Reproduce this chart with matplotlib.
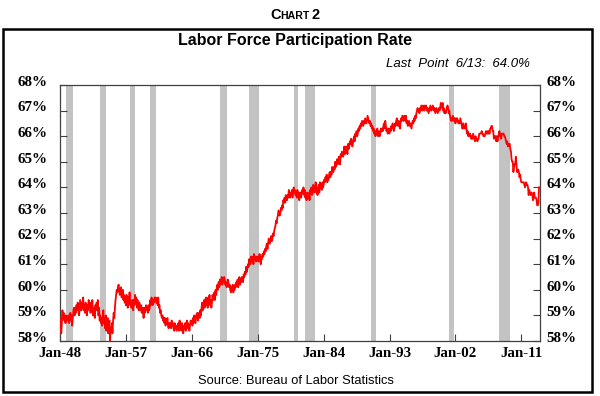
import numpy as np
import matplotlib
matplotlib.use("Agg")
import matplotlib.pyplot as plt
from matplotlib.patches import Rectangle
from matplotlib.transforms import ScaledTranslation

# monthly labor force participation rate (%), Jan-1948 .. Jun-2013
lfpr_1940s = [
    58.6, 58.9, 58.3, 58.7, 59.2, 58.9, 59.1, 58.8, 58.9, 58.7, 59.0, 58.8,
    58.9, 58.8, 59.0, 58.7, 58.9, 59.1, 58.8, 59.0, 58.6, 58.9, 59.2, 59.3,
]
lfpr_1950s = [
    59.0, 59.3, 59.1, 59.4, 59.2, 59.5, 59.3, 59.0, 59.2, 59.6, 59.4, 59.2,
    59.5, 59.3, 59.7, 59.2, 59.4, 59.1, 59.5, 59.3, 59.0, 59.4, 59.2, 59.6,
    59.3, 59.5, 59.1, 59.4, 59.2, 59.6, 59.0, 59.3, 59.1, 58.9, 59.4, 59.2,
    59.5, 59.2, 59.6, 59.0, 59.3, 58.8, 59.0, 58.7, 58.9, 58.6, 58.8, 59.2,
    58.7, 58.9, 58.5, 59.0, 58.4, 58.7, 58.9, 58.3, 58.6, 58.8, 58.0, 58.5,
    58.4, 58.7, 58.3, 58.8, 59.1, 58.9, 59.3, 59.6, 59.8, 60.0, 59.9, 60.1,
    60.2, 60.0, 59.8, 59.9, 60.1, 59.7, 59.9, 60.0, 59.6, 59.8, 59.5, 59.7,
    59.4, 59.8, 59.6, 59.3, 59.7, 59.5, 59.9, 59.4, 59.6, 59.3, 59.5, 59.6,
    59.2, 59.6, 59.4, 59.8, 59.5, 59.7, 59.3, 59.6, 59.4, 59.2, 59.5, 59.3,
    59.2, 59.4, 59.1, 59.3, 59.2, 58.9, 59.3, 59.1, 59.2, 59.4, 59.2, 59.3,
]
lfpr_1960s = [
    59.1, 59.4, 59.2, 59.3, 59.6, 59.4, 59.7, 59.5, 59.4, 59.6, 59.5, 59.7,
    59.6, 59.7, 59.5, 59.6, 59.4, 59.7, 59.3, 59.4, 59.1, 59.2, 59.0, 58.9,
    59.0, 58.8, 58.9, 58.7, 58.9, 58.6, 58.8, 58.7, 58.9, 58.6, 58.5, 58.7,
    58.6, 58.7, 58.5, 58.8, 58.6, 58.7, 58.5, 58.4, 58.7, 58.5, 58.6, 58.4,
    58.6, 58.5, 58.7, 58.4, 58.8, 58.5, 58.6, 58.4, 58.7, 58.5, 58.3, 58.6,
    58.5, 58.7, 58.4, 58.6, 58.8, 58.5, 58.7, 58.6, 58.4, 58.6, 58.8, 58.7,
    58.8, 58.6, 58.9, 58.7, 59.0, 58.8, 58.7, 59.0, 58.9, 59.1, 58.8, 59.0,
    59.1, 58.9, 59.2, 59.0, 59.3, 59.5, 59.2, 59.4, 59.6, 59.3, 59.5, 59.7,
    59.4, 59.6, 59.3, 59.7, 59.5, 59.8, 59.4, 59.6, 59.3, 59.5, 59.8, 59.6,
    59.7, 59.9, 59.6, 60.0, 59.8, 60.1, 60.2, 60.0, 60.3, 60.1, 60.4, 60.2,
]
lfpr_1970s = [
    60.3, 60.5, 60.2, 60.4, 60.3, 60.5, 60.4, 60.2, 60.3, 60.1, 60.2, 60.4,
    60.3, 60.1, 60.2, 60.0, 59.9, 60.1, 60.0, 60.2, 59.9, 60.1, 60.0, 60.2,
    60.1, 60.3, 60.2, 60.4, 60.1, 60.3, 60.5, 60.2, 60.4, 60.3, 60.5, 60.4,
    60.3, 60.6, 60.5, 60.7, 60.6, 60.9, 60.7, 60.8, 61.0, 60.9, 61.2, 61.1,
    61.0, 61.3, 61.2, 61.1, 61.3, 61.0, 61.4, 61.2, 61.3, 61.1, 61.3, 61.2,
    61.3, 61.1, 61.2, 61.4, 61.2, 61.0, 61.3, 61.2, 61.4, 61.3, 61.5, 61.4,
    61.6, 61.5, 61.7, 61.8, 61.6, 61.8, 62.0, 61.9, 61.8, 62.0, 62.1, 61.9,
    62.0, 62.2, 62.1, 62.3, 62.4, 62.5, 62.7, 62.6, 62.8, 62.9, 63.1, 63.0,
    62.9, 63.0, 63.2, 63.1, 63.3, 63.2, 63.5, 63.4, 63.6, 63.4, 63.7, 63.6,
    63.5, 63.7, 63.6, 63.9, 63.7, 63.6, 63.8, 63.7, 63.9, 63.6, 63.8, 64.0,
]
lfpr_1980s = [
    63.8, 63.9, 63.7, 63.8, 63.6, 63.9, 63.7, 63.8, 63.5, 63.7, 63.8, 63.6,
    63.7, 63.9, 63.8, 64.0, 63.7, 63.9, 63.6, 63.8, 63.5, 63.7, 63.8, 63.6,
    63.7, 63.5, 63.9, 63.8, 64.0, 63.7, 63.9, 64.1, 63.8, 64.0, 63.9, 64.2,
    63.8, 64.0, 63.7, 63.9, 64.1, 63.8, 64.2, 64.0, 64.1, 63.9, 64.2, 64.0,
    64.1, 64.3, 64.2, 64.4, 64.3, 64.5, 64.2, 64.4, 64.3, 64.5, 64.6, 64.4,
    64.6, 64.5, 64.8, 64.7, 64.6, 64.8, 64.7, 65.0, 64.8, 64.9, 65.1, 64.9,
    65.0, 65.2, 65.1, 64.9, 65.3, 65.2, 65.4, 65.3, 65.2, 65.4, 65.6, 65.3,
    65.4, 65.6, 65.5, 65.3, 65.7, 65.5, 65.6, 65.8, 65.7, 65.9, 65.8, 65.6,
    65.7, 65.9, 66.0, 65.8, 66.1, 66.0, 66.2, 66.0, 66.1, 66.3, 66.2, 66.4,
    66.3, 66.5, 66.4, 66.6, 66.5, 66.4, 66.6, 66.5, 66.7, 66.6, 66.5, 66.6,
]
lfpr_1990s = [
    66.8, 66.7, 66.6, 66.5, 66.6, 66.4, 66.5, 66.3, 66.4, 66.2, 66.3, 66.1,
    66.2, 66.0, 66.2, 66.1, 66.3, 66.0, 66.1, 66.2, 66.0, 66.1, 66.3, 66.2,
    66.3, 66.2, 66.4, 66.5, 66.3, 66.6, 66.4, 66.2, 66.3, 66.1, 66.3, 66.2,
    66.1, 66.3, 66.2, 66.4, 66.3, 66.5, 66.4, 66.2, 66.3, 66.5, 66.4, 66.6,
    66.7, 66.5, 66.4, 66.6, 66.5, 66.3, 66.5, 66.7, 66.6, 66.8, 66.7, 66.6,
    66.8, 66.7, 66.6, 66.8, 66.5, 66.6, 66.4, 66.5, 66.6, 66.4, 66.5, 66.4,
    66.3, 66.5, 66.6, 66.5, 66.7, 66.6, 66.8, 66.7, 66.9, 67.0, 67.1, 67.0,
    67.0, 66.9, 67.1, 67.0, 67.2, 67.1, 67.0, 67.2, 67.1, 67.0, 67.2, 67.1,
    67.2, 67.0, 67.1, 67.0, 66.9, 67.1, 67.0, 67.2, 67.1, 67.0, 67.1, 67.2,
    67.1, 67.0, 67.1, 66.9, 67.0, 67.1, 67.0, 66.9, 67.0, 67.1, 67.0, 67.1,
]
lfpr_2000s = [
    67.3, 67.2, 67.1, 67.3, 67.0, 67.1, 66.9, 67.0, 66.9, 67.0, 67.1, 67.2,
    67.1, 66.9, 67.0, 66.8, 66.7, 66.6, 66.7, 66.6, 66.8, 66.7, 66.6, 66.7,
    66.5, 66.7, 66.6, 66.7, 66.6, 66.5, 66.6, 66.5, 66.7, 66.6, 66.5, 66.3,
    66.4, 66.5, 66.3, 66.4, 66.3, 66.5, 66.3, 66.1, 66.2, 66.0, 66.1, 66.0,
    66.1, 66.0, 65.9, 66.0, 65.9, 66.1, 66.0, 65.9, 65.8, 66.0, 65.9, 65.9,
    65.8, 65.9, 65.9, 66.1, 66.1, 66.1, 66.1, 66.2, 66.1, 66.1, 66.0, 66.0,
    66.0, 66.1, 66.2, 66.1, 66.1, 66.2, 66.1, 66.2, 66.1, 66.3, 66.3, 66.4,
    66.4, 66.2, 66.2, 65.9, 66.0, 66.0, 66.0, 65.8, 66.0, 65.8, 66.0, 66.0,
    66.2, 66.0, 66.1, 65.9, 66.1, 66.1, 66.1, 66.1, 66.0, 66.0, 65.9, 65.8,
    65.7, 65.8, 65.6, 65.7, 65.7, 65.7, 65.5, 65.4, 65.1, 65.0, 65.0, 64.6,
]
lfpr_2010s = [
    64.8, 64.9, 64.9, 65.2, 64.9, 64.6, 64.6, 64.7, 64.6, 64.4, 64.5, 64.3,
    64.2, 64.2, 64.2, 64.2, 64.2, 64.1, 64.0, 64.1, 64.2, 64.1, 64.1, 64.0,
    63.7, 63.9, 63.8, 63.7, 63.8, 63.8, 63.7, 63.5, 63.6, 63.8, 63.6, 63.6,
    63.6, 63.5, 63.3, 63.3, 63.4, 64.0,
]

# NBER recessions (start, end) as "YYYY-MM"
rec_start = ["1948-11", "1953-07", "1957-08", "1960-04", "1969-12", "1973-11",
             "1980-01", "1981-07", "1990-07", "2001-03", "2007-12"]
rec_end = ["1949-10", "1954-05", "1958-04", "1961-02", "1970-11", "1975-03",
           "1980-07", "1982-11", "1991-03", "2001-11", "2009-06"]

tick_years = [1948, 1957, 1966, 1975, 1984, 1993, 2002, 2011]
tick_labels = ["Jan-48", "Jan-57", "Jan-66", "Jan-75", "Jan-84", "Jan-93", "Jan-02", "Jan-11"]
y_ticks = list(range(58, 69))


def to_year(s):
    y, m = s.split("-")
    return int(y) + (int(m) - 1) / 12


lfpr = np.array(lfpr_1940s + lfpr_1950s + lfpr_1960s + lfpr_1970s
                + lfpr_1980s + lfpr_1990s + lfpr_2000s + lfpr_2010s)
t = 1948 + np.arange(lfpr.size) / 12

fig = plt.figure(figsize=(6, 3.96), dpi=100)
ax = fig.add_axes([60 / 600, 1 - 341 / 396, 480 / 600, 256 / 396])

for s, e in zip(rec_start, rec_end):
    ax.axvspan(to_year(s), to_year(e), color="#c3c3c3", lw=0, zorder=1)

ax.plot(t, lfpr, color="#ff0000", lw=1.3, zorder=3)

ax.set_xlim(1948, 2013.55)
ax.set_ylim(58, 68)

serif = {"family": "Liberation Serif", "weight": "bold", "size": 10.8}
ax.set_xticks(tick_years)
ax.set_xticklabels(tick_labels, fontdict=serif)
ax.set_yticks(y_ticks)
ax.set_yticklabels([f"{v}%" for v in y_ticks], fontdict=serif)
ax.tick_params(axis="x", direction="in", length=5, width=0.8, color="#404040", pad=4)
ax.tick_params(axis="y", direction="in", length=5, width=0.8, color="#404040",
               left=True, right=True, labelleft=True, labelright=True, pad=9)
for lab in ax.get_yticklabels(which="both"):
    lab.set_transform(lab.get_transform() + ScaledTranslation(0, 3 / 72, fig.dpi_scale_trans))
for sp in ax.spines.values():
    sp.set_color("#404040")
    sp.set_linewidth(0.9)

# right side labels sit closer to the spine
for tick in ax.yaxis.get_major_ticks():
    tick.label2.set_transform(tick.label2.get_transform()
                              + ScaledTranslation(-4.5 / 72, 0, fig.dpi_scale_trans))

# outer frame
fig.patches.append(Rectangle((3 / 600, 1 - 392 / 396), 589 / 600, 363 / 396,
                             transform=fig.transFigure, fill=False,
                             edgecolor="black", lw=1.8))

# "CHART 2" in small caps
r = fig.canvas.get_renderer()
parts = [("C", 10.5), ("HART", 7.6), ("2", 10.5)]
gaps = [0, 0, 2]
x = 0
objs = []
for (txt, fs), g in zip(parts, gaps):
    x += g
    o = fig.text(0, 1 - 19 / 396, txt, fontsize=fs, fontweight="bold",
                 family="Liberation Sans", va="baseline", ha="left")
    objs.append((o, x))
    x += o.get_window_extent(r).width
start = 295 - x / 2
for o, off in objs:
    o.set_x((start + off) / 600)

fig.text(295 / 600, 1 - 41 / 396, "Labor Force Participation Rate", fontsize=11.5,
         fontweight="bold", family="Liberation Sans", ha="center", va="center")
fig.text(530 / 600, 1 - 64 / 396, "Last  Point  6/13:  64.0%", fontsize=9.5,
         style="italic", family="Liberation Sans", ha="right", va="center")
fig.text(296 / 600, 1 - 381 / 396, "Source: Bureau of Labor Statistics", fontsize=9.3,
         family="Liberation Sans", ha="center", va="center")

fig.savefig("out.png", dpi=100, facecolor="white")
